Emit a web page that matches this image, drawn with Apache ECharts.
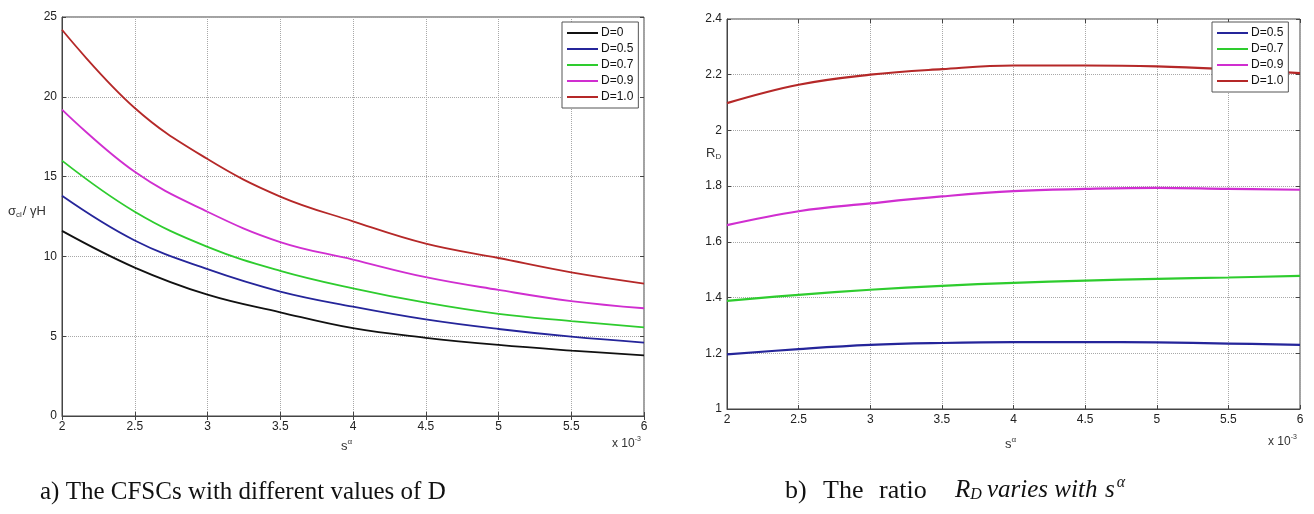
<!DOCTYPE html>
<html>
<head>
<meta charset="utf-8">
<script src="https://cdn.jsdelivr.net/npm/echarts@6/dist/echarts.min.js"></script>
<style>
  html, body { margin: 0; padding: 0; background: #fff; }
  #chart { width: 1314px; height: 514px; }
</style>
</head>
<body>
<div id="chart"></div>
<script>
// s^alpha (x 10^-3)
var sAlpha = [2, 2.5, 3, 3.5, 4, 4.5, 5, 5.5, 6];

// a) CFSC  sigma_cl / gamma H
var cfscD0  = [11.6, 9.3, 7.6, 6.5, 5.5, 4.9, 4.45, 4.1, 3.8];
var cfscD05 = [13.8, 11.0, 9.2, 7.8, 6.85, 6.05, 5.45, 4.97, 4.6];
var cfscD07 = [16.0, 12.8, 10.6, 9.1, 8.0, 7.1, 6.4, 5.95, 5.55];
var cfscD09 = [19.2, 15.3, 12.8, 10.9, 9.8, 8.7, 7.9, 7.2, 6.75];
var cfscD10 = [24.2, 19.3, 16.1, 13.75, 12.2, 10.8, 9.9, 9.0, 8.3];

// b) ratio R_D
var ratioD05 = [1.196, 1.215, 1.23, 1.237, 1.24, 1.24, 1.239, 1.235, 1.23];
var ratioD07 = [1.388, 1.41, 1.428, 1.442, 1.453, 1.461, 1.467, 1.472, 1.478];
var ratioD09 = [1.66, 1.71, 1.738, 1.763, 1.782, 1.79, 1.794, 1.79, 1.787];
var ratioD10 = [2.098, 2.164, 2.2, 2.22, 2.233, 2.233, 2.23, 2.22, 2.206];

var leftNames = ['D=0', 'D=0.5', 'D=0.7', 'D=0.9', 'D=1.0'];
var rightNames = ['D=0.5', 'D=0.7', 'D=0.9', 'D=1.0'];
var colors = { 'D=0': '#111111', 'D=0.5': '#25259a', 'D=0.7': '#2ecc2e', 'D=0.9': '#d02ed0', 'D=1.0': '#b52828' };

function pairs(ys) {
    return sAlpha.map(function (x, i) { return [x, ys[i]]; });
}

var myChart = echarts.init(document.getElementById('chart'));

var labelStyle = { color: '#222', fontSize: 12, fontFamily: 'Liberation Sans, Arial, sans-serif' };
var gridLine = { show: true, lineStyle: { type: 'dotted', color: '#a8a8a8', width: 1 } };

function xAx(gi, pos) {
    var main = pos === 'bottom';
    return {
        type: 'value', gridIndex: gi, position: pos, min: 2, max: 6, interval: 0.5,
        axisLine: { show: main, lineStyle: { color: '#444' } },
        axisTick: { show: true, inside: true, length: 4, lineStyle: { color: '#444' } },
        axisLabel: Object.assign({ show: main, margin: 5 }, labelStyle),
        splitLine: main ? gridLine : { show: false }
    };
}
function yAx(gi, pos, min, max, step) {
    var main = pos === 'left';
    return {
        type: 'value', gridIndex: gi, position: pos, min: min, max: max, interval: step,
        axisLine: { show: main, lineStyle: { color: '#444' } },
        axisTick: { show: true, inside: true, length: 4, lineStyle: { color: '#444' } },
        axisLabel: Object.assign({ show: main, margin: 5 }, labelStyle),
        splitLine: main ? gridLine : { show: false }
    };
}

var series = [];
var leftData = [cfscD0, cfscD05, cfscD07, cfscD09, cfscD10];
leftNames.forEach(function (n, i) {
    series.push({
        name: n, type: 'line', xAxisIndex: 0, yAxisIndex: 0,
        data: pairs(leftData[i]), smooth: 0.4, symbol: 'none',
        lineStyle: { width: 1.8, color: colors[n] }, itemStyle: { color: colors[n] }
    });
});
var rightData = [ratioD05, ratioD07, ratioD09, ratioD10];
rightNames.forEach(function (n, i) {
    series.push({
        name: n, type: 'line', xAxisIndex: 2, yAxisIndex: 2,
        data: pairs(rightData[i]), smooth: 0.4, symbol: 'none',
        lineStyle: { width: 2.2, color: colors[n] }, itemStyle: { color: colors[n] }
    });
});

function legendAt(left, names) {
    return {
        orient: 'vertical', left: left, top: 22, data: names,
        icon: 'rect', padding: [5, 5, 5, 5], itemGap: 4, itemWidth: 31, itemHeight: 2,
        borderColor: '#555', borderWidth: 1, backgroundColor: '#fff',
        textStyle: { color: '#111', fontSize: 12, lineHeight: 12, padding: [0, 0, 0, -2], fontFamily: 'Liberation Sans, Arial, sans-serif' },
        selectedMode: false
    };
}

var serif = 'Liberation Serif';
var capFont = '26px "Liberation Serif", "Times New Roman", serif';
var option = {
    backgroundColor: '#fff',
    animation: false,
    grid: [
        { left: 62, right: 670, top: 17, bottom: 98, show: true, borderColor: '#444', borderWidth: 1 },
        { left: 727, right: 14, top: 19, bottom: 105, show: true, borderColor: '#444', borderWidth: 1 }
    ],
    xAxis: [xAx(0, 'bottom'), xAx(0, 'top'), xAx(1, 'bottom'), xAx(1, 'top')],
    yAxis: [yAx(0, 'left', 0, 25, 5), yAx(0, 'right', 0, 25, 5), yAx(1, 'left', 1, 2.4, 0.2), yAx(1, 'right', 1, 2.4, 0.2)],
    legend: [legendAt(562, leftNames), legendAt(1212, rightNames)],
    series: series,
    graphic: [
        // axis names
        { type: 'text', left: 8, top: 205, style: { text: '{m|σ}{s|cl}{m|/ γH}', rich: {
            m: { fontSize: 13, fill: '#333', fontFamily: 'Liberation Sans, Arial' },
            s: { fontSize: 8, fill: '#333', padding: [6, 1, 0, 0], fontFamily: 'Liberation Sans, Arial' } } } },
        { type: 'text', left: 706, top: 147, style: { text: '{m|R}{s|D}', rich: {
            m: { fontSize: 13, fill: '#333', fontFamily: 'Liberation Sans, Arial' },
            s: { fontSize: 8, fill: '#333', padding: [7, 0, 0, 0], fontFamily: 'Liberation Sans, Arial' } } } },
        { type: 'text', left: 341, top: 438, style: { text: '{m|s}{p|α}', rich: {
            m: { fontSize: 13, fill: '#333', fontFamily: 'Liberation Sans, Arial' },
            p: { fontSize: 8, fill: '#333', padding: [0, 0, 8, 0], fontFamily: 'Liberation Sans, Arial' } } } },
        { type: 'text', left: 1005, top: 436, style: { text: '{m|s}{p|α}', rich: {
            m: { fontSize: 13, fill: '#333', fontFamily: 'Liberation Sans, Arial' },
            p: { fontSize: 8, fill: '#333', padding: [0, 0, 8, 0], fontFamily: 'Liberation Sans, Arial' } } } },
        { type: 'text', left: 612, top: 436, style: { text: '{m|x 10}{p|-3}', rich: {
            m: { fontSize: 12, fill: '#333', fontFamily: 'Liberation Sans, Arial' },
            p: { fontSize: 7, fill: '#333', padding: [0, 0, 8, 0], fontFamily: 'Liberation Sans, Arial' } } } },
        { type: 'text', left: 1268, top: 434, style: { text: '{m|x 10}{p|-3}', rich: {
            m: { fontSize: 12, fill: '#333', fontFamily: 'Liberation Sans, Arial' },
            p: { fontSize: 7, fill: '#333', padding: [0, 0, 8, 0], fontFamily: 'Liberation Sans, Arial' } } } },
        // captions
        { type: 'text', left: 40, top: 480, style: { text: 'a) The CFSCs with different values of D',
            font: '25px "Liberation Serif", "Times New Roman", serif', fill: '#111' } },
        { type: 'text', left: 785, top: 478, style: { text: 'b)', font: capFont, fill: '#111' } },
        { type: 'text', left: 823, top: 478, style: { text: 'The', font: capFont, fill: '#111' } },
        { type: 'text', left: 879, top: 478, style: { text: 'ratio', font: capFont, fill: '#111' } },
        { type: 'text', left: 955, top: 478, style: { text: '{i|R}{is|D}', rich: {
            i: { fontSize: 25, fill: '#111', fontStyle: 'italic', fontFamily: serif },
            is: { fontSize: 16, fill: '#111', fontStyle: 'italic', padding: [8, 0, 0, 0], fontFamily: serif } } } },
        { type: 'text', left: 987, top: 478, style: { text: 'varies with',
            font: 'italic 25px "Liberation Serif", "Times New Roman", serif', fill: '#111' } },
        { type: 'text', left: 1105, top: 475, style: { text: '{i|s}{ip|α}', rich: {
            i: { fontSize: 25, fill: '#111', fontStyle: 'italic', fontFamily: serif },
            ip: { fontSize: 16, fill: '#111', fontStyle: 'italic', padding: [0, 0, 14, 2], fontFamily: serif } } } }
    ]
};

myChart.setOption(option);
</script>
</body>
</html>
